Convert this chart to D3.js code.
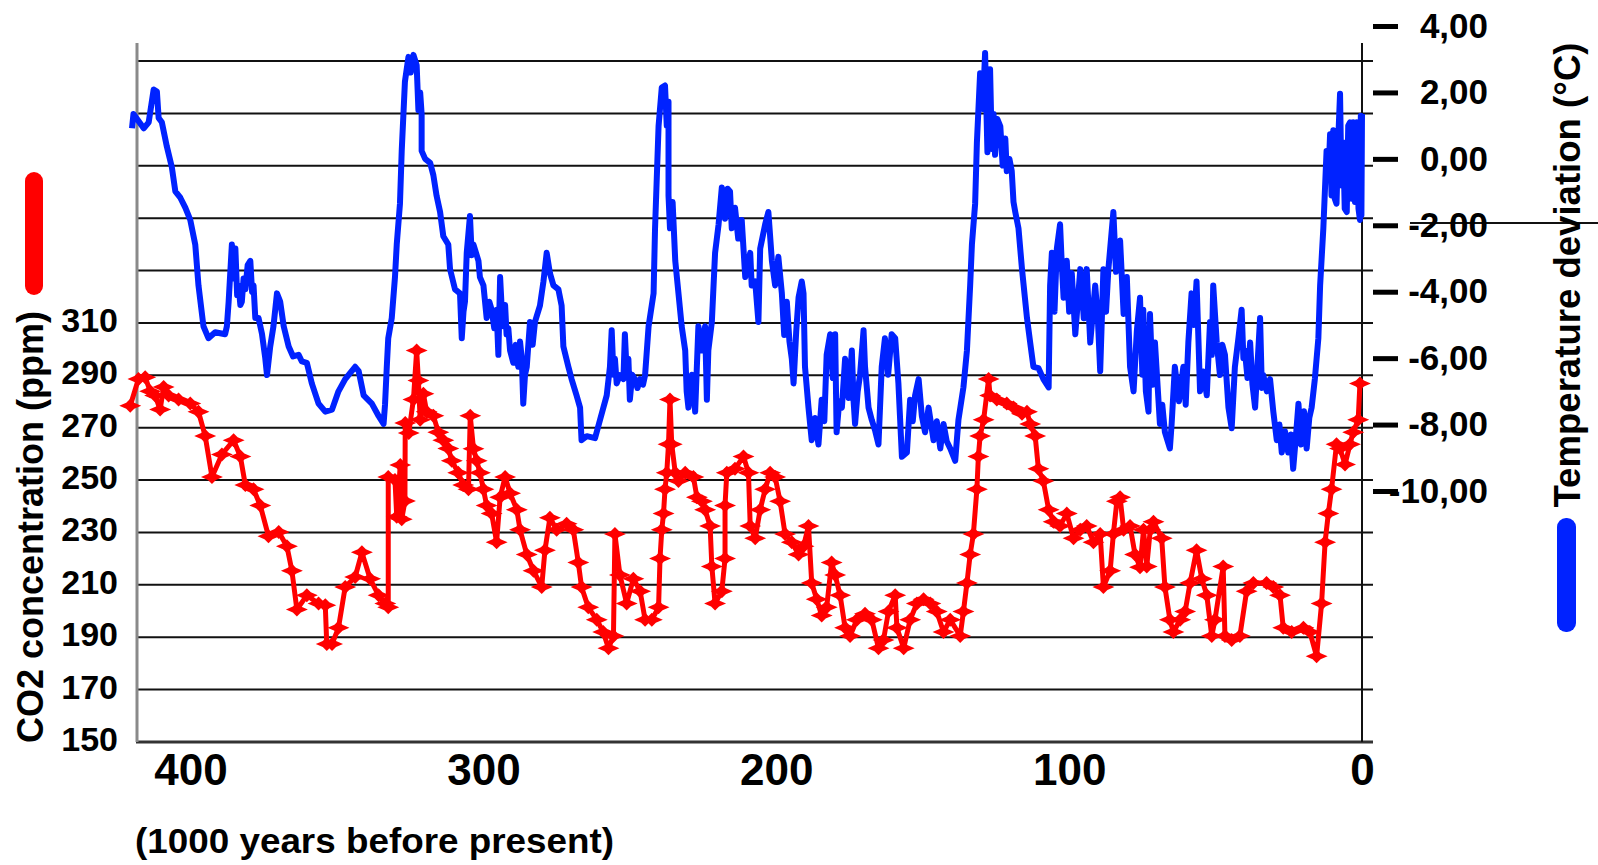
<!DOCTYPE html>
<html>
<head>
<meta charset="utf-8">
<script src="https://cdn.jsdelivr.net/npm/d3@7"></script>
<style>
  body { margin: 0; background: #fff; }
  text { font-family: "Liberation Sans", Arial, sans-serif; font-weight: bold; fill: #000; }
</style>
</head>
<body>
<div id="chart"></div>
<script>
const width = 1598;
const height = 865;

// axis ticks
const ageTicks = [400, 300, 200, 100, 0];
const co2Ticks = [150, 170, 190, 210, 230, 250, 270, 290, 310];
const co2Grid = [170, 190, 210, 230, 250, 270, 290, 310, 330, 350, 370, 390, 410];
const tempTicks = [4, 2, 0, -2, -4, -6, -8, -10];

// [thousand years before present, temperature deviation °C]
const temperature = [
  [420.0,0.92],[419.5,1.35],[416.0,0.92],[414.3,1.10],[412.6,2.09],[411.5,2.03],[410.9,1.23],[409.8,1.10],
  [408.1,0.37],[406.4,-0.25],[405.2,-0.98],[403.5,-1.17],[401.8,-1.47],[400.1,-1.84],[398.4,-2.58],[397.3,-3.81],
  [395.6,-5.04],[393.9,-5.40],[391.6,-5.22],[388.2,-5.28],[387.6,-5.04],[387.0,-4.30],[385.9,-2.58],[385.3,-3.6],
  [384.7,-2.70],[384.1,-4.1],[383.6,-3.81],[383.0,-4.4],[382.5,-4.30],[381.9,-3.6],[381.3,-3.93],[380.5,-3.2],
  [379.6,-3.07],[379.0,-4.0],[378.5,-3.81],[377.9,-4.79],[376.8,-4.79],[375.6,-5.28],[374.5,-6.0],[373.9,-6.51],
  [372.8,-5.65],[371.7,-5.04],[370.5,-4.05],[369.4,-4.30],[368.2,-5.04],[366.5,-5.65],[365.0,-5.95],[363.1,-5.90],
  [362.0,-6.1],[360.3,-6.14],[358.6,-6.76],[356.3,-7.37],[354.0,-7.61],[351.7,-7.55],[349.5,-7.00],[347.2,-6.63],
  [343.8,-6.26],[342.6,-6.39],[340.9,-7.12],[338.1,-7.37],[335.8,-7.74],[334.1,-7.98],[333.6,-7.4],[333.0,-6.26],
  [332.5,-5.40],[331.3,-4.79],[330.2,-3.56],[329.6,-2.58],[328.5,-1.35],[327.9,0.24],[326.8,2.33],[325.6,3.07],
  [324.8,2.6],[323.9,3.13],[322.8,2.82],[322.2,1.47],[321.6,2.0],[321.1,1.35],[321.1,0.24],[319.9,0.00],
  [318.2,-0.12],[317.1,-0.49],[316.0,-1.11],[314.8,-1.60],[313.7,-2.33],[312.0,-2.58],[311.4,-3.32],[309.7,-3.93],
  [308.0,-4.05],[307.4,-5.40],[306.8,-4.6],[306.3,-4.30],[305.7,-2.83],[304.6,-1.72],[304.0,-2.9],[303.4,-2.58],
  [301.7,-3.07],[301.2,-3.56],[300.0,-3.81],[298.9,-4.79],[298.0,-4.3],[297.2,-4.54],[296.3,-5.1],[295.5,-4.54],
  [294.9,-5.90],[294.3,-3.56],[293.7,-4.6],[293.2,-5.04],[292.6,-4.4],[292.1,-5.28],[291.5,-5.1],[290.9,-5.77],
  [289.8,-6.14],[289.0,-5.6],[288.1,-6.26],[287.5,-5.5],[286.9,-6.02],[286.4,-7.37],[285.8,-6.5],[285.2,-6.26],
  [284.1,-4.91],[283.2,-5.6],[282.4,-4.91],[280.7,-4.42],[279.5,-3.69],[278.4,-2.83],[277.3,-3.44],[276.1,-3.81],
  [274.4,-3.93],[273.3,-4.42],[272.7,-5.65],[271.0,-6.26],[269.9,-6.63],[268.2,-7.12],[267.0,-7.49],[266.5,-8.47],
  [264.7,-8.35],[261.9,-8.41],[260.2,-7.86],[257.9,-7.12],[256.8,-6.26],[256.2,-5.16],[255.6,-6.5],[255.1,-6.02],
  [254.5,-6.76],[253.4,-6.51],[252.2,-6.63],[251.7,-5.28],[251.1,-6.4],[250.5,-6.02],[250.0,-7.25],[249.2,-6.5],
  [248.3,-6.63],[247.4,-6.9],[246.5,-6.63],[245.5,-6.8],[244.8,-6.51],[243.6,-5.04],[241.9,-4.05],[241.4,-2.09],
  [240.2,0.98],[239.1,2.15],[238.0,2.21],[237.4,1.0],[236.8,1.72],[236.8,-1.11],[236.3,-2.09],[235.4,-1.3],
  [234.5,-3.07],[233.4,-4.05],[232.3,-5.04],[231.1,-5.77],[230.6,-7.0],[230.0,-7.49],[228.8,-6.5],[227.7,-7.61],
  [226.6,-5.04],[225.4,-5.77],[224.3,-5.04],[223.7,-7.25],[223.2,-5.77],[222.0,-4.91],[220.9,-2.83],[219.7,-1.97],
  [218.6,-0.86],[217.5,-1.8],[216.6,-0.9],[215.8,-0.98],[215.2,-2.09],[214.1,-1.47],[213.0,-2.4],[211.8,-1.84],
  [210.6,-3.56],[208.9,-2.83],[208.4,-3.81],[207.2,-3.69],[206.1,-4.91],[205.5,-2.70],[203.8,-1.97],[202.7,-1.60],
  [201.5,-3.07],[200.4,-3.81],[199.3,-2.95],[198.1,-4.05],[197.3,-5.3],[196.4,-4.30],[195.5,-5.5],[194.7,-6.02],
  [194.1,-6.76],[193.2,-5.2],[192.4,-4.18],[191.3,-3.69],[190.7,-4.05],[190.2,-6.26],[189.0,-7.49],[187.9,-8.47],
  [186.8,-7.8],[185.6,-8.60],[184.5,-7.25],[183.6,-7.9],[182.8,-5.90],[181.6,-5.28],[180.7,-6.6],[179.9,-5.28],
  [179.4,-8.23],[178.5,-7.3],[177.6,-7.49],[176.5,-6.02],[175.3,-7.2],[174.2,-5.77],[173.6,-7.3],[173.1,-7.98],
  [172.2,-7.0],[171.4,-6.51],[170.2,-5.16],[169.7,-6.26],[168.5,-7.49],[167.4,-7.86],[166.2,-8.2],[165.1,-8.60],
  [164.0,-6.26],[162.9,-5.40],[161.8,-6.5],[160.6,-5.28],[159.4,-5.40],[158.3,-6.76],[157.1,-8.97],[155.4,-8.84],
  [154.3,-7.25],[153.4,-7.9],[152.6,-7.12],[151.4,-6.63],[150.3,-7.74],[149.2,-8.23],[148.0,-7.49],[146.3,-8.47],
  [145.2,-7.9],[144.0,-8.72],[142.9,-7.98],[141.8,-8.5],[140.6,-8.72],[138.9,-9.09],[137.8,-7.86],[136.1,-6.88],
  [134.9,-5.77],[133.8,-3.81],[133.2,-2.58],[132.1,-1.35],[131.5,0.49],[130.4,2.58],[129.5,1.5],[128.7,3.19],
  [127.9,0.2],[127.0,2.70],[126.4,0.3],[125.8,1.35],[125.3,0.12],[124.5,1.2],[123.5,0.98],[122.7,-0.2],
  [121.8,0.61],[121.3,-0.37],[120.4,0.0],[119.6,-0.37],[119.0,-1.3],[118.4,-1.60],[117.3,-2.09],[116.1,-3.32],
  [114.4,-4.79],[113.3,-5.53],[112.2,-6.26],[110.5,-6.3],[108.8,-6.63],[107.0,-6.88],[106.5,-3.81],[105.9,-2.83],
  [105.0,-4.6],[104.2,-2.70],[103.1,-1.97],[102.5,-3.2],[101.9,-4.18],[100.8,-3.07],[100.0,-4.6],[99.1,-3.44],
  [97.9,-5.28],[96.2,-3.32],[95.0,-4.8],[94.0,-3.32],[92.8,-5.53],[91.1,-3.81],[90.2,-4.8],[89.4,-6.39],
  [88.3,-3.32],[87.4,-4.6],[86.6,-3.32],[84.9,-1.60],[84.0,-3.4],[82.6,-2.46],[81.4,-4.67],[80.3,-3.56],
  [79.2,-6.26],[78.0,-7.00],[76.9,-5.2],[75.8,-4.18],[75.0,-6.5],[74.7,-4.54],[73.8,-7.0],[72.9,-7.61],
  [72.4,-4.67],[71.5,-6.8],[70.7,-5.53],[69.0,-7.98],[68.2,-7.4],[67.3,-8.23],[65.6,-8.72],[65.0,-7.98],
  [63.9,-6.26],[62.5,-7.3],[61.0,-6.26],[60.2,-7.4],[59.3,-5.53],[58.2,-4.05],[57.4,-5.0],[56.5,-3.69],
  [55.9,-5.3],[55.3,-7.00],[54.2,-6.4],[53.0,-7.12],[51.9,-4.91],[51.3,-5.9],[50.8,-3.81],[49.6,-5.53],
  [48.5,-6.51],[47.7,-5.6],[46.8,-5.90],[45.6,-7.49],[44.5,-8.11],[43.4,-6.26],[42.2,-5.40],[41.1,-4.54],
  [40.5,-6.0],[40.0,-5.77],[39.1,-6.6],[38.2,-5.53],[37.4,-6.8],[36.5,-7.49],[34.8,-4.79],[34.2,-6.9],
  [33.7,-6.51],[32.5,-7.0],[31.4,-6.63],[30.3,-7.6],[29.1,-8.47],[28.2,-8.0],[27.4,-8.84],[26.3,-8.2],
  [25.2,-8.84],[24.3,-8.3],[23.5,-9.33],[22.6,-8.4],[21.7,-7.37],[20.8,-8.6],[19.8,-7.6],[18.9,-8.72],
  [18.0,-7.8],[17.2,-7.49],[16.1,-6.63],[14.9,-5.40],[14.3,-3.81],[13.2,-2.09],[12.1,0.24],[11.5,-0.6],
  [10.9,0.74],[10.4,-1.1],[9.8,0.86],[9.3,-1.2],[8.7,-1.35],[8.1,0.6],[7.5,1.96],[7.0,-0.8],
  [6.4,0.49],[5.9,-1.5],[5.2,-1.60],[4.7,1.0],[4.1,1.10],[3.5,-1.2],[3.0,1.1],[2.4,-1.3],
  [1.8,1.10],[1.2,-1.5],[0.7,-1.84],[0.4,1.3],[0.2,-1.7],[0.0,1.35]
];

// [thousand years before present, CO2 ppm]
const co2 = [
  [420.6,278.4],[417.8,288.6],[415.5,289.3],[413.8,283.9],[412.1,282.3],[410.4,276.9],[409.2,285.5],[407.5,282.3],
  [404.1,280.8],[400.1,279.2],[397.3,276.1],[395.0,266.8],[392.7,251.2],[389.3,259.8],[385.3,265.2],[383.0,259.0],
  [381.3,248.1],[378.5,246.5],[376.2,240.3],[373.4,228.6],[369.9,230.2],[367.1,224.7],[365.4,215.4],[363.7,200.6],
  [360.3,206.0],[356.3,202.9],[354.0,202.2],[353.5,187.4],[351.7,187.4],[349.5,193.6],[347.2,209.2],[343.8,213.0],
  [341.5,222.4],[338.7,212.3],[335.8,206.0],[333.5,202.9],[332.5,201.4],[332.5,251.2],[330.2,250.0],[329.6,236.0],
  [328.4,255.8],[327.9,235.0],[326.8,242.0],[326.7,271.8],[325.5,268.0],[323.9,280.8],[322.8,299.5],[322.2,288.0],
  [321.6,273.0],[320.5,283.0],[319.4,276.1],[317.1,274.6],[315.4,268.3],[313.7,265.2],[312.0,262.1],[310.8,257.4],
  [308.6,252.8],[306.9,248.1],[305.1,246.5],[304.5,274.6],[303.4,262.0],[302.3,257.4],[301.2,252.8],[300.0,246.5],
  [298.9,240.3],[297.2,237.2],[295.5,226.3],[294.3,243.4],[292.6,251.2],[290.9,245.0],[288.6,238.7],[287.5,231.0],
  [285.2,221.6],[282.9,215.4],[280.1,209.2],[279.0,223.2],[277.3,235.6],[275.0,231.0],[271.6,233.3],[269.3,231.0],
  [267.6,218.5],[266.5,209.2],[264.2,201.4],[261.3,196.7],[259.1,192.0],[257.3,185.8],[255.6,190.5],[255.1,229.4],
  [253.4,213.8],[251.1,202.9],[248.8,212.3],[246.5,207.6],[244.8,196.7],[242.5,196.7],[240.2,201.4],[239.7,220.1],
  [239.1,231.0],[238.5,237.2],[238.0,246.5],[237.4,252.8],[236.8,263.7],[236.3,280.8],[235.7,263.7],[234.5,252.8],
  [233.4,249.6],[231.1,252.8],[228.3,251.2],[227.1,243.4],[225.4,241.9],[224.3,238.7],[222.6,232.5],[222.0,217.0],
  [220.9,202.9],[218.6,207.6],[217.5,220.1],[217.5,240.3],[216.9,252.8],[214.1,254.3],[211.2,259.0],[209.5,252.8],
  [208.9,232.5],[207.2,227.8],[205.5,238.7],[203.8,246.5],[202.1,252.8],[200.4,251.2],[198.7,241.9],[197.0,229.4],
  [194.7,226.3],[192.4,221.6],[190.7,224.7],[189.0,232.5],[187.9,210.7],[186.2,204.5],[184.5,198.3],[182.8,201.4],
  [181.1,218.5],[179.9,213.8],[178.2,206.0],[176.5,193.6],[174.8,190.5],[172.5,196.7],[169.7,199.0],[167.4,196.7],
  [165.1,185.8],[163.4,188.9],[161.7,199.8],[159.4,206.0],[158.8,193.6],[156.5,185.8],[154.3,196.7],[152.0,202.9],
  [149.7,204.5],[147.4,202.9],[145.2,199.8],[142.9,192.0],[140.6,196.7],[137.2,190.5],[136.1,199.8],[134.9,210.7],
  [133.8,221.6],[132.7,229.4],[131.5,246.5],[131.0,259.0],[130.4,266.8],[129.2,273.0],[127.5,288.6],[127.0,282.3],
  [124.7,280.8],[121.3,279.2],[119.0,277.7],[116.1,275.3],[114.4,276.1],[113.3,271.4],[111.6,266.8],[110.5,254.3],
  [108.8,249.6],[107.0,238.7],[105.3,234.1],[103.1,232.5],[100.8,237.2],[98.5,227.8],[96.2,231.0],[94.0,232.5],
  [91.7,226.3],[89.4,229.4],[88.3,209.2],[86.0,215.4],[84.9,229.4],[83.7,241.9],[82.6,243.4],[81.4,231.0],
  [79.2,232.5],[77.5,221.6],[75.8,216.7],[74.6,231.0],[73.5,217.0],[72.3,231.0],[71.2,234.1],[68.4,227.8],
  [67.3,209.2],[65.6,196.7],[64.4,192.0],[62.1,196.7],[60.4,199.8],[58.7,210.7],[56.5,223.2],[54.7,212.3],
  [53.0,206.0],[51.3,190.5],[50.2,196.7],[47.4,217.0],[46.8,190.5],[44.5,188.9],[41.7,190.5],[39.4,207.6],
  [37.1,210.7],[32.6,210.7],[30.3,209.2],[28.0,206.0],[26.9,193.6],[24.0,192.0],[20.0,193.6],[17.8,192.0],
  [15.5,182.7],[13.8,202.9],[12.6,226.3],[11.5,237.2],[10.4,246.5],[8.7,263.7],[7.5,262.1],[5.8,255.9],
  [4.1,263.7],[3.0,268.3],[1.3,273.0],[0.7,286.9]
];

const svg = d3
  .select("#chart")
  .append("svg")
  .attr("width", width)
  .attr("height", height)
  .style("background", "#fff");

const x = d3.scaleLinear().domain([420, 0]).range([132, 1362]);
const yCo2 = d3.scaleLinear().domain([150, 410]).range([742, 61]);
const yTemp = d3.scaleLinear().domain([4, -10]).range([26, 491]);

// horizontal grid
svg
  .append("g")
  .selectAll("line")
  .data(co2Grid)
  .enter()
  .append("line")
  .attr("x1", 136)
  .attr("x2", 1373)
  .attr("y1", (d) => yCo2(d))
  .attr("y2", (d) => yCo2(d))
  .attr("stroke", "#111")
  .attr("stroke-width", 2);

// frame lines
svg.append("line").attr("x1", 136).attr("x2", 1373).attr("y1", yCo2(150)).attr("y2", yCo2(150))
  .attr("stroke", "#333").attr("stroke-width", 3);
svg.append("line").attr("x1", 137).attr("x2", 137).attr("y1", 43).attr("y2", yCo2(150))
  .attr("stroke", "#8a8a8a").attr("stroke-width", 3);
svg.append("line").attr("x1", x(0)).attr("x2", x(0)).attr("y1", 43).attr("y2", yCo2(150))
  .attr("stroke", "#111").attr("stroke-width", 2);
// stray line through the right labels
svg.append("line").attr("x1", 1410).attr("x2", width).attr("y1", 223).attr("y2", 223)
  .attr("stroke", "#111").attr("stroke-width", 2);

// left axis (CO2)
const leftAxis = svg
  .append("g")
  .attr("transform", "translate(136,0)")
  .call(d3.axisLeft(yCo2).tickValues(co2Ticks).tickSize(0).tickPadding(18));
leftAxis.select(".domain").remove();
leftAxis.selectAll("text").attr("font-size", 34).attr("font-family", null).attr("dy", "0.25em");

// right axis (temperature)
const fmtTemp = (d) => d3.format(".2f")(d).replace(".", ",").replace("\u2212", "-");
const rightAxis = svg
  .append("g")
  .attr("transform", "translate(1373,0)")
  .call(d3.axisRight(yTemp).tickValues(tempTicks).tickSize(25).tickFormat(fmtTemp));
rightAxis.select(".domain").remove();
rightAxis.selectAll(".tick line").attr("stroke", "#000").attr("stroke-width", 5);
rightAxis
  .selectAll("text")
  .attr("x", 115)
  .attr("text-anchor", "end")
  .attr("font-size", 35)
  .attr("font-family", null);

// bottom axis (age)
const bottomAxis = svg
  .append("g")
  .attr("transform", `translate(0,${yCo2(150)})`)
  .call(d3.axisBottom(x).tickValues(ageTicks).tickSize(0).tickPadding(12));
bottomAxis.select(".domain").remove();
bottomAxis.selectAll("text").attr("font-size", 44).attr("font-family", null);

// temperature line
svg
  .append("path")
  .datum(temperature)
  .attr("fill", "none")
  .attr("stroke", "#0022ff")
  .attr("stroke-width", 6)
  .attr("stroke-linejoin", "round")
  .attr("d", d3.line().x((d) => x(d[0])).y((d) => yTemp(d[1])));

// CO2 line with star markers
svg
  .append("path")
  .datum(co2)
  .attr("fill", "none")
  .attr("stroke", "#ff0000")
  .attr("stroke-width", 5)
  .attr("stroke-linejoin", "round")
  .attr("d", d3.line().x((d) => x(d[0])).y((d) => yCo2(d[1])));

svg
  .append("g")
  .selectAll("path")
  .data(co2)
  .enter()
  .append("path")
  .attr("transform", (d) => `translate(${x(d[0])},${yCo2(d[1])})`)
  .attr("d", "M-11,0L-4,-3L0,-7L4,-3L11,0L4,3L0,7L-4,3Z")
  .attr("fill", "#ff0000");

// axis titles
svg.append("text")
  .attr("transform", "translate(43,527) rotate(-90)")
  .attr("text-anchor", "middle")
  .attr("font-size", 36)
  .attr("textLength", 432)
  .attr("lengthAdjust", "spacingAndGlyphs")
  .text("CO2 concentration (ppm)");

svg.append("text")
  .attr("transform", "translate(1580,275) rotate(-90)")
  .attr("text-anchor", "middle")
  .attr("font-size", 37)
  .attr("textLength", 465)
  .attr("lengthAdjust", "spacingAndGlyphs")
  .text("Temperature deviation (°C)");

svg.append("text")
  .attr("x", 135)
  .attr("y", 853)
  .attr("font-size", 35)
  .attr("textLength", 479)
  .attr("lengthAdjust", "spacingAndGlyphs")
  .text("(1000 years before present)");

// legend swatches
svg.append("rect").attr("x", 25).attr("y", 172).attr("width", 18).attr("height", 123)
  .attr("rx", 9).attr("fill", "#ff0000");
svg.append("rect").attr("x", 1557).attr("y", 518).attr("width", 19).attr("height", 114)
  .attr("rx", 9).attr("fill", "#0022ff");
</script>
</body>
</html>
